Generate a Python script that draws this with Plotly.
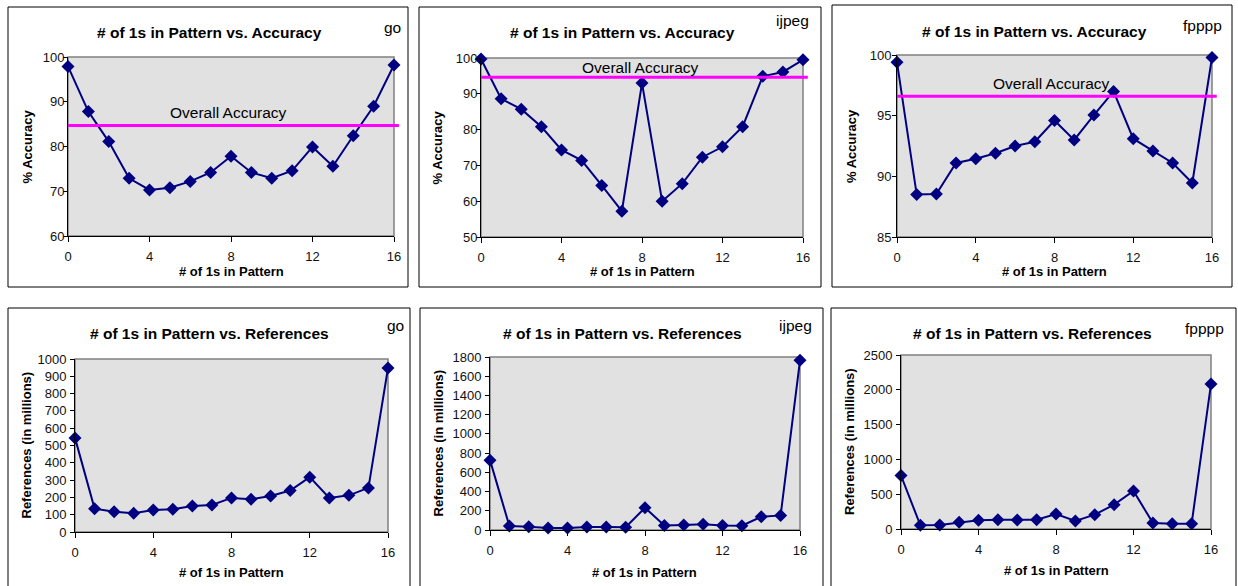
import plotly.graph_objects as go

# ---------------- data ----------------
patterns = list(range(17))
benchmarks = ["go", "ijpeg", "fpppp"]

acc_go = [97.9, 87.8, 81.1, 72.9, 70.3, 70.8, 72.2, 74.2, 77.8, 74.2, 72.9, 74.6, 79.9, 75.6, 82.4, 89.0, 98.2]
acc_ijpeg = [99.7, 88.6, 85.7, 80.8, 74.3, 71.4, 64.4, 57.2, 93.0, 60.0, 64.9, 72.3, 75.2, 80.8, 94.9, 96.1, 99.5]
acc_fpppp = [99.4, 88.5, 88.55, 91.1, 91.45, 91.9, 92.5, 92.85, 94.6, 93.0, 95.05, 97.0, 93.1, 92.08, 91.1, 89.45, 99.8]
overall_acc = [84.7, 94.6, 96.6]

refs_go = [544, 135, 117, 108, 127, 131, 150, 156, 197, 189, 208, 240, 317, 197, 212, 255, 948]
refs_ijpeg = [727, 42, 35, 21, 21, 31, 31, 28, 232, 48, 52, 59, 48, 45, 138, 152, 1765]
refs_fpppp = [768, 53, 58, 96, 125, 134, 130, 134, 216, 115, 206, 350, 547, 86, 77, 77, 2083]

acc_title = "# of 1s in Pattern vs. Accuracy"
ref_title = "# of 1s in Pattern vs. References"
x_title = "# of 1s in Pattern"
acc_ytitle = "% Accuracy"
ref_ytitle = "References (in millions)"
overall_label = "Overall Accuracy"
x_ticks = [0, 4, 8, 12, 16]

acc_ranges = [(60, 100, 10), (50, 100, 10), (85, 100, 5)]
ref_ranges = [(0, 1000, 100), (0, 1800, 200), (0, 2500, 500)]

# ---------------- layout helpers ----------------
W, H = 1238, 586
FONT = "Liberation Sans, Arial, sans-serif"
NAVY = "#000080"


def px_x(v):
    return v / W


def px_y(v):
    return 1 - v / H


plot_px = [
    (68, 394, 57, 236),
    (481, 803, 58, 237),
    (897, 1212, 55, 237),
    (75, 388, 359, 532),
    (490, 800, 357, 530),
    (901, 1211, 355, 529),
]
box_px = [
    (8, 408, 7, 287),
    (419, 821, 7, 287),
    (832, 1232, 5, 287),
    (8, 410, 308, 620),
    (420, 823, 308, 620),
    (831, 1236, 308, 620),
]
title_px = [(209, 32), (622, 32), (1034, 31), (210, 333), (622, 333), (1032, 333)]
label_px = [(392, 27), (792, 21), (1202, 26), (395, 326), (795, 326), (1204, 328)]
overall_px = [(228, 113), (640, 68), (1051, 83)]
ytitle_x = [27, 437, 852, 26, 438, 849]
xtitle_y = [271, 271, 271, 572, 572, 570]
y_standoff = [-4, -4, -2, 1, 1, 1]

fig = go.Figure()
shapes = []
annotations = []

series = [acc_go, acc_ijpeg, acc_fpppp, refs_go, refs_ijpeg, refs_fpppp]
ranges = acc_ranges + ref_ranges

for i in range(6):
    n = i + 1
    xa = "x" if n == 1 else f"x{n}"
    ya = "y" if n == 1 else f"y{n}"
    fig.add_trace(go.Scatter(
        x=patterns, y=series[i], xaxis=xa, yaxis=ya, mode="lines+markers",
        line=dict(color=NAVY, width=2),
        marker=dict(symbol="diamond", size=10, color=NAVY),
        cliponaxis=False, showlegend=False, hoverinfo="x+y",
    ))
    x0, x1, y0, y1 = plot_px[i]
    lo, hi, dt = ranges[i]
    axis_common = dict(
        showline=True, linecolor="black", linewidth=1, ticks="outside",
        tickcolor="black", tickwidth=1, showgrid=False, zeroline=False,
        automargin=False,
        tickfont=dict(family=FONT, size=13, color="#111"),
    )
    fig.layout[f"xaxis{n if n > 1 else ''}"] = dict(
        domain=[px_x(x0), px_x(x1)], anchor=ya, range=[0, 16], ticklen=5,
        ticklabelstandoff=3,
        tickmode="array", tickvals=x_ticks, **axis_common,
    )
    fig.layout[f"yaxis{n if n > 1 else ''}"] = dict(
        domain=[px_y(y1), px_y(y0)], anchor=xa, range=[lo, hi], ticklen=4,
        ticklabelstandoff=y_standoff[i],
        tickmode="linear", tick0=lo, dtick=dt, **axis_common,
    )
    # gray plot-area border (top/right)
    xd = f"{xa} domain"
    yd = f"{ya} domain"
    shapes.append(dict(type="rect", xref=xd, yref=yd, x0=0, x1=1, y0=0, y1=1,
                       line=dict(color="#808080", width=1.5), layer="below"))
    # outer box
    bx0, bx1, by0, by1 = box_px[i]
    shapes.append(dict(type="rect", xref="paper", yref="paper",
                       x0=px_x(bx0), x1=px_x(bx1), y0=px_y(by1), y1=px_y(by0),
                       line=dict(color="black", width=1)))
    # title
    tx, ty = title_px[i]
    annotations.append(dict(text=f"<b>{acc_title if i < 3 else ref_title}</b>",
                            x=px_x(tx), y=px_y(ty), xref="paper", yref="paper",
                            showarrow=False, xanchor="center", yanchor="middle",
                            font=dict(family=FONT, size=15.5, color="black")))
    lx, ly = label_px[i]
    annotations.append(dict(text=benchmarks[i % 3], x=px_x(lx), y=px_y(ly),
                            xref="paper", yref="paper", showarrow=False,
                            xanchor="center", yanchor="middle",
                            font=dict(family=FONT, size=15.5, color="black")))
    # axis titles
    annotations.append(dict(text=f"<b>{x_title}</b>", x=(px_x(x0) + px_x(x1)) / 2,
                            y=px_y(xtitle_y[i]), xref="paper", yref="paper",
                            showarrow=False, xanchor="center", yanchor="middle",
                            font=dict(family=FONT, size=13, color="black")))
    annotations.append(dict(text=f"<b>{acc_ytitle if i < 3 else ref_ytitle}</b>",
                            x=px_x(ytitle_x[i]), y=(px_y(y0) + px_y(y1)) / 2,
                            xref="paper", yref="paper", textangle=-90,
                            showarrow=False, xanchor="center", yanchor="middle",
                            font=dict(family=FONT, size=13, color="black")))
    if i < 3:
        shapes.append(dict(type="line", xref=xd, yref=ya, x0=0, x1=1.015,
                           y0=overall_acc[i], y1=overall_acc[i],
                           line=dict(color="#ff00ff", width=3)))
        ox, oy = overall_px[i]
        annotations.append(dict(text=overall_label, x=px_x(ox), y=px_y(oy),
                                xref="paper", yref="paper", showarrow=False,
                                xanchor="center", yanchor="middle",
                                font=dict(family=FONT, size=15.5, color="black")))

fig.update_layout(
    width=W, height=H, margin=dict(l=0, r=0, t=0, b=0, pad=0, autoexpand=False),
    paper_bgcolor="white", plot_bgcolor="#e1e1e1",
    shapes=shapes, annotations=annotations,
    font=dict(family=FONT),
)

fig.write_html(
    "out.html",
    config={"displayModeBar": False},
    post_script="document.body.style.margin='0px';document.body.style.overflow='hidden';",
)
